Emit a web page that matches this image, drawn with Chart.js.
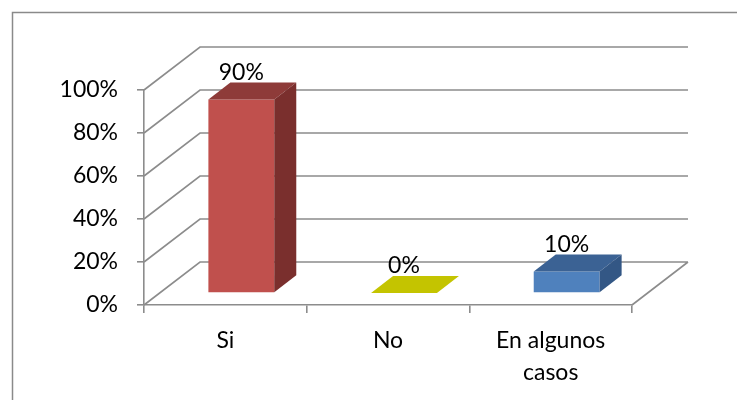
<!DOCTYPE html>
<html>
<head>
<meta charset="utf-8">
<script src="https://cdn.jsdelivr.net/npm/chart.js@4"></script>
<style>
  html, body { margin: 0; padding: 0; background: #fff; }
  #wrap { width: 737px; height: 400px; }
</style>
</head>
<body>
<div id="wrap"><canvas id="chart" width="737" height="400"></canvas></div>
<script>
const categories = [['Si'], ['No'], ['En algunos', 'casos']]
const values = [0.9, 0, 0.1]
const yTicks = [0, 0.2, 0.4, 0.6, 0.8, 1]

const frontColors = ['#C0504D', '#C4C400', '#4F81BD']
const topColors = ['#8E3B39', '#C4C400', '#3B6294']
const sideColors = ['#7A2F2D', '#9E9E00', '#335785']

// 3D depth offsets (px)
const wallDx = 56
const wallDy = 43
const barShiftX = 16
const barShiftY = 12
const barDx = 22
const barDy = 17
const gridColor = '#8c8c8c'
const fontSize = 23

const threeD = {
  id: 'threeD',
  beforeDraw (chart) {
    const ctx = chart.ctx
    ctx.save()
    ctx.fillStyle = '#fff'
    ctx.fillRect(0, 0, chart.width, chart.height)
    ctx.strokeStyle = '#8a8a8a'
    ctx.lineWidth = 1.5
    ctx.strokeRect(12.5, 12.5, 800, 500)
    // walls and floor
    const y = chart.scales.y
    const x = chart.scales.x
    const left = x.left
    const right = x.right
    ctx.strokeStyle = gridColor
    ctx.lineWidth = 1.6
    ctx.beginPath()
    yTicks.forEach((v) => {
      const py = y.getPixelForValue(v)
      ctx.moveTo(left, py)
      ctx.lineTo(left + wallDx, py - wallDy)
      ctx.lineTo(right + wallDx, py - wallDy)
    })
    const p0 = y.getPixelForValue(0)
    ctx.moveTo(right, p0)
    ctx.lineTo(right + wallDx, p0 - wallDy)
    ctx.stroke()
    ctx.restore()
  },
  beforeDatasetsDraw (chart) {
    chart.ctx.save()
    chart.ctx.translate(barShiftX, -barShiftY)
  },
  afterDatasetsDraw (chart) {
    const ctx = chart.ctx
    const meta = chart.getDatasetMeta(0)
    meta.data.forEach((el, i) => {
      const p = el.getProps(['x', 'y', 'base', 'width'], true)
      const l = p.x - p.width / 2
      const r = p.x + p.width / 2
      // top face
      ctx.fillStyle = topColors[i]
      ctx.beginPath()
      ctx.moveTo(l, p.y)
      ctx.lineTo(r, p.y)
      ctx.lineTo(r + barDx, p.y - barDy)
      ctx.lineTo(l + barDx, p.y - barDy)
      ctx.closePath()
      ctx.fill()
      // side face
      if (p.base - p.y > 0.5) {
        ctx.fillStyle = sideColors[i]
        ctx.beginPath()
        ctx.moveTo(r, p.y)
        ctx.lineTo(r + barDx, p.y - barDy)
        ctx.lineTo(r + barDx, p.base - barDy)
        ctx.lineTo(r, p.base)
        ctx.closePath()
        ctx.fill()
      }
      // value label
      ctx.fillStyle = '#000'
      ctx.font = fontSize + 'px Lato'
      ctx.textAlign = 'center'
      ctx.textBaseline = 'alphabetic'
      ctx.fillText(Math.round(values[i] * 100) + '%', p.x, p.y - barDy - 3)
    })
    ctx.restore()
  }
}

new Chart(document.getElementById('chart'), {
  type: 'bar',
  data: {
    labels: categories,
    datasets: [{
      data: values,
      backgroundColor: frontColors,
      borderWidth: 0,
      categoryPercentage: 1,
      barPercentage: 0.405,
      clip: false
    }]
  },
  options: {
    responsive: false,
    animation: false,
    layout: { padding: { left: 0, right: 105, top: 90, bottom: 0 } },
    plugins: { legend: { display: false }, tooltip: { enabled: false } },
    scales: {
      x: {
        afterFit: (s) => { s.height = 95 },
        grid: { drawOnChartArea: false, drawTicks: true, tickLength: 8, color: gridColor, lineWidth: 1.6, offset: true },
        border: { display: true, color: gridColor, width: 1.6 },
        ticks: { color: '#000', padding: 11, font: { family: 'Lato', size: fontSize, lineHeight: 1.4 } }
      },
      y: {
        min: 0,
        max: 1,
        afterFit: (s) => { s.width = 144 },
        afterBuildTicks: (s) => { s.ticks = yTicks.map((v) => ({ value: v })) },
        grid: { drawOnChartArea: false, drawTicks: true, tickLength: 7, color: gridColor, lineWidth: 1.6 },
        border: { display: true, color: gridColor, width: 1.6 },
        ticks: {
          color: '#000',
          padding: 19,
          font: { family: 'Lato', size: fontSize },
          callback: (v) => Math.round(v * 100) + '%'
        }
      }
    }
  },
  plugins: [threeD]
})
</script>
</body>
</html>
